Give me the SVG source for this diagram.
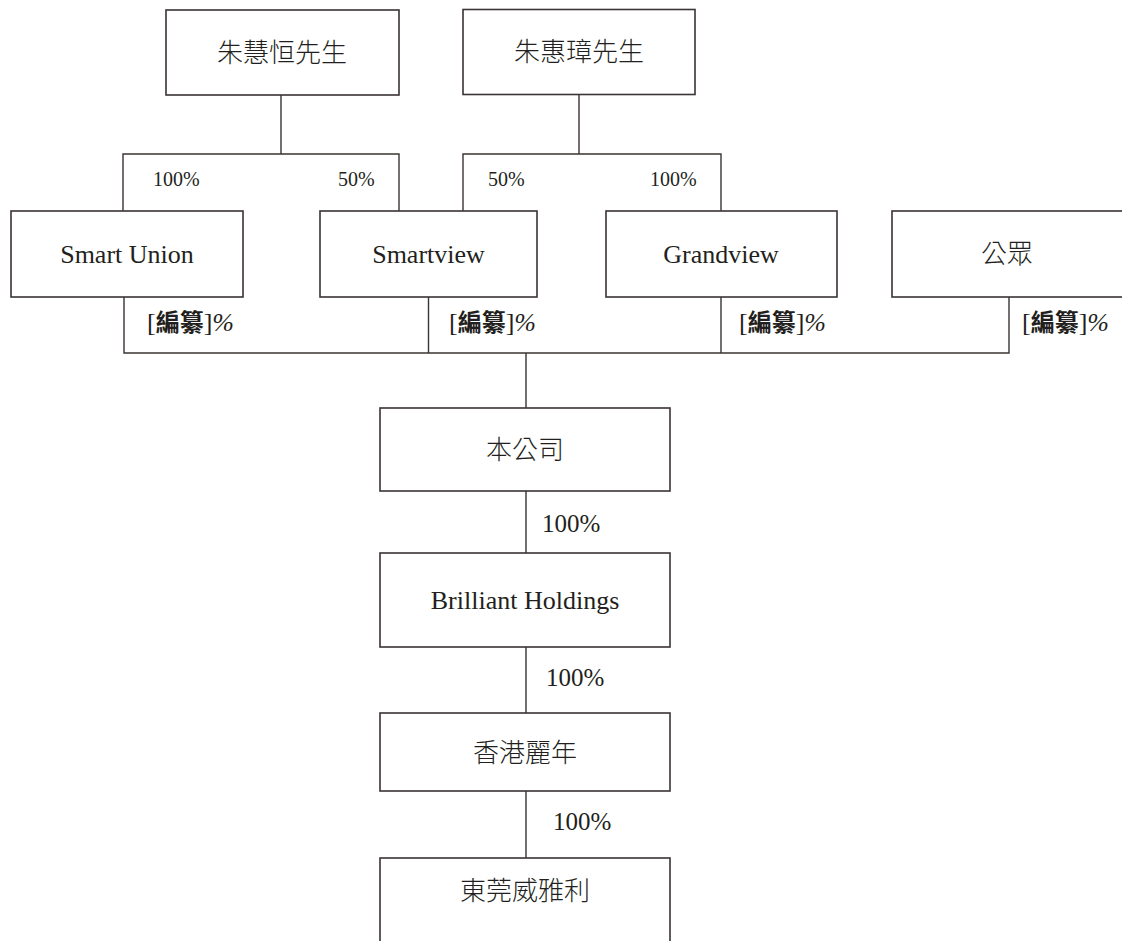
<svg xmlns="http://www.w3.org/2000/svg" width="1122" height="941" viewBox="0 0 1122 941">
<style>
.box{fill:#fff;stroke:#3a3432;stroke-width:1.6}
.ln{fill:none;stroke:#3a3432;stroke-width:1.4}
.cj{font-family:"Noto Sans CJK TC","Noto Sans CJK SC",sans-serif;font-size:26px;font-weight:300;fill:#231f20;text-anchor:middle}
.en{font-family:"Liberation Serif",serif;font-size:26px;fill:#231f20;text-anchor:middle}
.pt{font-family:"Liberation Serif",serif;font-size:20px;fill:#231f20}
.pb{font-family:"Liberation Serif",serif;font-size:25px;fill:#231f20}
.rd{font-family:"Liberation Serif",serif;font-size:26px;fill:#231f20}
.rd .k{font-family:"Noto Sans CJK TC","Noto Sans CJK SC",sans-serif;font-weight:bold;font-size:24px}
.rd .p{font-style:italic}
</style>
<rect width="1122" height="941" fill="#fff"/>
<g id="connectors">
<path class="ln" d="M281 95V154M123 211V154H399V211"/>
<path class="ln" d="M579 95V154M463 211V154H721V211"/>
<path class="ln" d="M124 297V353H1009V297M428.5 297V353M721 297V353M526 353V408"/>
<path class="ln" d="M526 491V553M526 647V713M526 791V858"/>
</g>
<g id="labels">
<text class="pt" x="153" y="186">100%</text>
<text class="pt" x="338" y="186">50%</text>
<text class="pt" x="488" y="186">50%</text>
<text class="pt" x="650" y="186">100%</text>
<text class="rd" x="147" y="331">[<tspan class="k">編纂</tspan>]<tspan class="p">%</tspan></text>
<text class="rd" x="449" y="331">[<tspan class="k">編纂</tspan>]<tspan class="p">%</tspan></text>
<text class="rd" x="739" y="331">[<tspan class="k">編纂</tspan>]<tspan class="p">%</tspan></text>
<text class="rd" x="1022" y="331">[<tspan class="k">編纂</tspan>]<tspan class="p">%</tspan></text>
<text class="pb" x="542" y="532">100%</text>
<text class="pb" x="546" y="686">100%</text>
<text class="pb" x="553" y="830">100%</text>
</g>
<g id="n-zhu1"><rect class="box" x="166" y="10" width="233" height="85"/><text class="cj" x="282" y="61.5">朱慧恒先生</text></g>
<g id="n-zhu2"><rect class="box" x="463" y="9.5" width="232" height="85"/><text class="cj" x="579" y="61">朱惠璋先生</text></g>
<g id="n-smartunion"><rect class="box" x="11" y="211" width="232" height="86"/><text class="en" x="127" y="262.5">Smart Union</text></g>
<g id="n-smartview"><rect class="box" x="320" y="211" width="217" height="86"/><text class="en" x="428.5" y="262.5">Smartview</text></g>
<g id="n-grandview"><rect class="box" x="606" y="211" width="231" height="86"/><text class="en" x="721" y="262.5">Grandview</text></g>
<g id="n-public"><rect class="box" x="892" y="211" width="240" height="86"/><text class="cj" x="1007" y="263">公眾</text></g>
<g id="n-company"><rect class="box" x="380" y="408" width="290" height="83"/><text class="cj" x="525" y="459">本公司</text></g>
<g id="n-brilliant"><rect class="box" x="380" y="553" width="290" height="94"/><text class="en" x="525" y="608.5">Brilliant Holdings</text></g>
<g id="n-hk"><rect class="box" x="380" y="713" width="290" height="78"/><text class="cj" x="525" y="762">香港麗年</text></g>
<g id="n-dg"><rect class="box" x="380" y="858" width="290" height="100"/><text class="cj" x="525" y="900">東莞威雅利</text></g>
</svg>
